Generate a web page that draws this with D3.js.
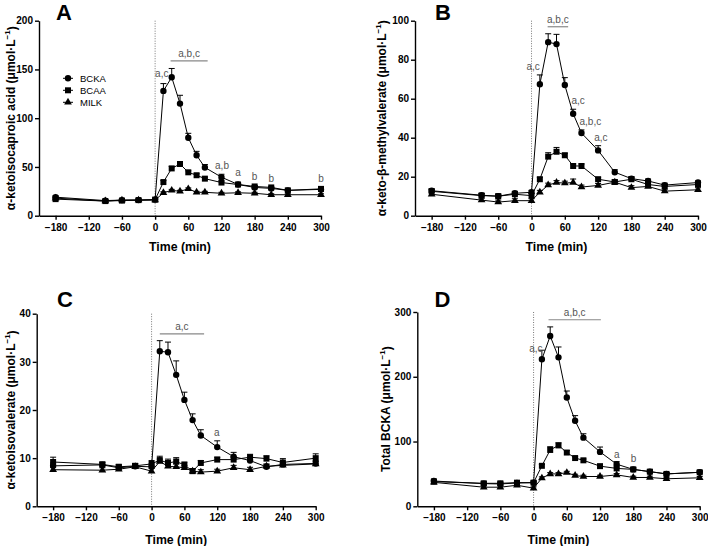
<!DOCTYPE html>
<html><head><meta charset="utf-8">
<script src="https://cdn.jsdelivr.net/npm/d3@7"></script>
<style>
body{margin:0;background:#fff;}
svg{display:block;font-family:Arial,"Liberation Sans",sans-serif;}
</style></head>
<body><svg id="c" width="708" height="546"></svg>
<script>
// ---- data ----
const times = [-180,-90,-60,-30,0,15,30,45,60,75,90,120,150,180,210,240,300];
const xTicks = [-180,-120,-60,0,60,120,180,240,300];
const seriesNames = ["BCKA","BCAA","MILK"];

const aBCKA = [19,15.5,16,16,16.5,128,142,115,80,62,49.5,39.5,32,29,28,26,27];
const aBCAA = [17,15,15.5,16,16.5,34.5,48.5,53,44.5,41.5,38,34,32,30,29,26,27.5];
const aMILK = [18,15,16,16,16,23.5,26,25,27.5,24,24,23,23.5,23,21.5,21.5,21.5];
const aBCKAsem = [1.5,1,1,1,1,7.5,9,8.5,4.5,4,3,3,1.5,1.5,1,1,1];
const aBCAAsem = [1,1,1,1,1,1.5,2,2.5,1.5,1.5,1.5,1.5,1,1,1,1,1];
const aMILKsem = [1,1,1,1,1,1,1,1,1,1,1,1,1,1,1,1,1];
const aYTicks = [0,50,100,150,200];

const bBCKA = [12.8,10.5,10,11.5,12,67.4,89,88,67,52.3,42.4,33.5,22.3,19,17.8,15.7,17];
const bBCAA = [12.5,10.3,10,11,10.3,18.7,30.3,32.8,31,25.5,25.5,18.7,17.3,18.7,16,15,16];
const bMILK = [11,8,7,7.7,7.7,12,15.7,17,16.7,17,14.7,15.5,17.2,14.4,15,12.6,13.3];
const bBCKAsem = [1,1,1,1,1,4.8,4.3,5,3.8,2.3,1.6,2.4,1.3,1,1,1,0.8];
const bBCAAsem = [1,1,1,1,1,1,2,2.2,1,1,1,1,1,1,1,1,1];
const bMILKsem = [1,1,1,1,1,1,1,1,1,1.8,1,1,1,1,1,1,1];
const bYTicks = [0,20,40,60,80,100];

const cBCKA = [8.4,8.6,8.0,8.3,8.2,32.2,32.0,27.3,22.1,17.9,14.7,12.3,10.3,9.5,8.2,8.7,8.9];
const cBCAA = [9.2,8.7,8.2,8.4,8.8,9.6,9.0,9.3,8.6,7.3,9.0,9.7,9.7,10.2,9.9,9.1,10.0];
const cMILK = [7.6,7.5,7.7,8.2,7.3,9.3,8.3,8.2,8.0,7.3,7.1,7.3,8.0,7.6,8.3,8.5,8.8];
const cBCKAsem = [0.6,0.5,0.5,0.5,0.6,2.2,2.1,2.9,1.6,1.3,1.2,1.3,0.9,0.6,0.5,0.5,0.5];
const cBCAAsem = [1.0,0.5,0.5,0.5,0.7,0.8,0.8,0.8,0.6,0.5,0.5,0.5,0.6,0.6,0.6,0.8,0.9];
const cMILKsem = [0.5,0.5,0.5,0.5,0.6,0.5,0.6,0.6,0.5,0.5,0.5,0.4,0.5,0.5,0.5,0.5,0.5];
const cYTicks = [0,10,20,30,40];

const dBCKA = [39,35,34.5,36,36.5,227,263,230,168,132,106,84,65,57,53.5,50,52.5];
const dBCAA = [38,35.5,35.5,36.5,36.5,62.5,87,94,83,74.5,71,62,58.5,57,53.5,50,52.5];
const dMILK = [37,29.5,29.5,32.5,28,43.5,50,50,52,47.5,46,46,48.5,44.5,44.5,42.5,44];
const dBCKAsem = [3,3,3,3,3,14,14,16,10,8,6,7.5,4,3,3,2,2];
const dBCAAsem = [2,2,2,2,2,2,5,4,3,2,2,2,2,2,2,2,2];
const dMILKsem = [2,2,2,2,2,2,2,2,2,2,2,2,2,2,2,2,2];
const dYTicks = [0,100,200,300];

// significance annotations: [time0, time1, value, text] and [time, value, text]
const aBars = [[28,95,158.7,"a,b,c"]];
const aNotes = [[12,146,"a,c"],[121,51.3,"a,b"],[150,43.8,"a"],[180,40.7,"b"],[210,38.4,"b"],[300,38.4,"b"]];
const bBars = [[29,66,96.9,"a,b,c"]];
const bNotes = [[3,76.4,"a,c"],[84,59.3,"a,c"],[106,48.2,"a,b,c"],[125,40,"a,c"]];
const cBars = [[15,96,35.8,"a,c"]];
const cNotes = [[119.4,15.3,"a"]];
const dBars = [[27,121.5,288,"a,b,c"]];
const dNotes = [[4,243,"a,c"],[150.4,80,"a"],[180.6,74,"b"]];

// ---- layout ----
const panels = [
  {letter:"A", lx:64, ly:20, left:39, right:321, top:20.7, bottom:215.7, ymax:200, yTicks:aYTicks,
   vals:[aBCKA,aBCAA,aMILK], sems:[aBCKAsem,aBCAAsem,aMILKsem], bars:aBars, notes:aNotes,
   title:"α-ketoisocaproic acid", tx:11, ttl:35, legend:true},
  {letter:"B", lx:443, ly:20, left:415, right:698, top:20.7, bottom:215.7, ymax:100, yTicks:bYTicks,
   vals:[bBCKA,bBCAA,bMILK], sems:[bBCKAsem,bBCAAsem,bMILKsem], bars:bBars, notes:bNotes,
   title:"α-keto-β-methylvalerate", tx:382, ttl:35},
  {letter:"C", lx:65, ly:306.5, left:36.7, right:315.7, top:313.7, bottom:506.3, ymax:40, yTicks:cYTicks,
   vals:[cBCKA,cBCAA,cMILK], sems:[cBCKAsem,cBCAAsem,cMILKsem], bars:cBars, notes:cNotes,
   title:"α-ketoisovalerate", tx:11, ttl:37.5},
  {letter:"D", lx:442.5, ly:306.5, left:417.3, right:699.7, top:312, bottom:506.3, ymax:300, yTicks:dYTicks,
   vals:[dBCKA,dBCAA,dMILK], sems:[dBCKAsem,dBCAAsem,dMILKsem], bars:dBars, notes:dNotes,
   title:"Total BCKA", tx:386, ttl:37.5}
];

const svg = d3.select("#c");
const symbols = [d3.symbolCircle, d3.symbolSquare, d3.symbolTriangle];
const symSizes = [32, 36, 26];

function drawMarker(g, i, x, y){
  g.append("path").attr("d", d3.symbol().type(symbols[i]).size(symSizes[i])())
   .attr("transform", `translate(${x},${y})`).attr("fill","#000");
}

panels.forEach(p => {
  const g = svg.append("g");
  const x = d3.scaleLinear().domain([-210,300]).range([p.left,p.right]);
  const y = d3.scaleLinear().domain([0,p.ymax]).range([p.bottom,p.top]);

  // dotted line at time 0
  g.append("line").attr("x1",x(0)).attr("x2",x(0)).attr("y1",p.top).attr("y2",p.bottom)
   .attr("stroke","#777").attr("stroke-width",1).attr("stroke-dasharray","1,1.5");

  // axes
  const xa = g.append("g").attr("transform",`translate(0,${p.bottom})`)
    .call(d3.axisBottom(x).tickValues(xTicks).tickSize(4).tickSizeOuter(0).tickPadding(4)
      .tickFormat(d => d < 0 ? "\u2212" + Math.abs(d) : d));
  const ya = g.append("g").attr("transform",`translate(${p.left},0)`)
    .call(d3.axisLeft(y).tickValues(p.yTicks).tickSize(4).tickSizeOuter(0).tickPadding(2));
  [xa,ya].forEach(a => {
    a.select(".domain").attr("stroke","#000").attr("stroke-width",1.4);
    a.selectAll(".tick line").attr("stroke","#000").attr("stroke-width",1.4);
    a.selectAll("text").attr("font-size",10).attr("font-weight","bold").attr("fill","#000")
      .attr("font-family","Arial, 'Liberation Sans', sans-serif");
  });

  // series
  [0,1,2].forEach(si => {
    const vals = p.vals[si], sems = p.sems[si];
    const line = d3.line().x((d,i)=>x(times[i])).y(d=>y(d));
    g.append("path").datum(vals).attr("d",line).attr("fill","none").attr("stroke","#000").attr("stroke-width",1);
    vals.forEach((v,i) => {
      const cx = x(times[i]), top = y(v + sems[i]);
      g.append("line").attr("x1",cx).attr("x2",cx).attr("y1",y(v)).attr("y2",top).attr("stroke","#000").attr("stroke-width",1);
      g.append("line").attr("x1",cx-3).attr("x2",cx+3).attr("y1",top).attr("y2",top).attr("stroke","#000").attr("stroke-width",1);
    });
  });
  [0,1,2].forEach(si => {
    p.vals[si].forEach((v,i) => drawMarker(g, si, x(times[i]), y(v)));
  });

  // annotations
  p.bars.forEach(b => {
    g.append("line").attr("x1",x(b[0])).attr("x2",x(b[1])).attr("y1",y(b[2])).attr("y2",y(b[2]))
      .attr("stroke","#888").attr("stroke-width",1.2);
    g.append("text").attr("x",(x(b[0])+x(b[1]))/2).attr("y",y(b[2])-4).attr("text-anchor","middle")
      .attr("font-size",10).attr("fill","#555").text(b[3]);
  });
  p.notes.forEach(n => {
    g.append("text").attr("x",x(n[0])).attr("y",y(n[1])).attr("dy","0.35em").attr("text-anchor","middle")
      .attr("font-size",10).attr("fill","#555").text(n[2]);
  });

  // titles
  g.append("text").attr("x",(p.left+p.right)/2).attr("y",p.bottom+p.ttl).attr("text-anchor","middle")
    .attr("font-size",12.3).attr("font-weight","bold").text("Time (min)");
  const yt = g.append("text").attr("transform",`translate(${p.tx},${(p.top+p.bottom)/2}) rotate(-90)`)
    .attr("text-anchor","middle").attr("dy","0.35em").attr("font-size",12).attr("font-weight","bold");
  yt.append("tspan").text(p.title + " (μmol·L");
  yt.append("tspan").attr("font-size",8).attr("dy","-0.6em").text("\u22121");
  yt.append("tspan").attr("dy","0.45em").text(")");

  g.append("text").attr("x",p.lx).attr("y",p.ly).attr("text-anchor","middle")
    .attr("font-size",22).attr("font-weight","bold").text(p.letter);

  if (p.legend){
    seriesNames.forEach((name,i) => {
      const ly = 78.3 + i*12;
      g.append("line").attr("x1",63).attr("x2",73).attr("y1",ly).attr("y2",ly).attr("stroke","#000");
      drawMarker(g, i, 68, ly);
      g.append("text").attr("x",80).attr("y",ly).attr("dy","0.35em").attr("font-size",9.5).text(name);
    });
  }
});
</script></body></html>
